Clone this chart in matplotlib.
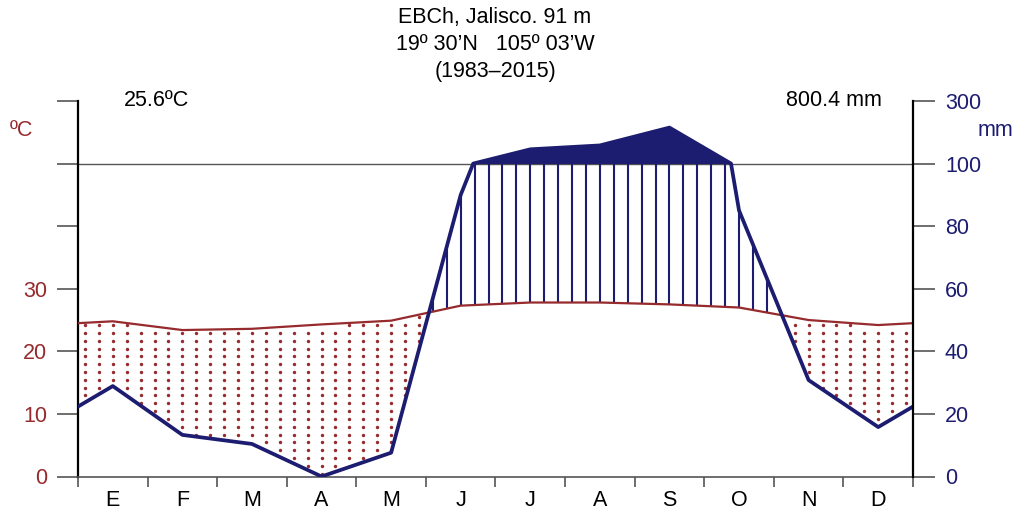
import numpy as np
import matplotlib
matplotlib.use('Agg')
import matplotlib.pyplot as plt

plt.rcParams['font.family'] = ['Liberation Sans', 'DejaVu Sans']

# ---- data ----
months = ['E', 'F', 'M', 'A', 'M', 'J', 'J', 'A', 'S', 'O', 'N', 'D']
temp = [24.8, 23.4, 23.6, 24.3, 24.9, 27.3, 27.8, 27.8, 27.5, 27.0, 25.0, 24.2]
precip = [28.9, 13.3, 10.4, 0.0, 7.6, 90.0, 145.6, 158.0, 215.0, 85.0, 30.8, 15.8]
temp_tick_values = [0, 10, 20, 30, 40, 50, 60]
temp_tick_labels = ['0', '10', '20', '30', '', '', '']
precip_tick_labels = ['0', '20', '40', '60', '80', '100', '300']
title_lines = ['EBCh, Jalisco. 91 m', '19º 30’N   105º 03’W', '(1983–2015)']
mean_temp_label = '25.6ºC'
total_precip_label = '800.4 mm'

RED = '#962a2d'
NAVY = '#1c1c70'
GREY = '#555555'


def pscale(p):
    p = np.asarray(p, float)
    return np.where(p <= 100, p / 2.0, 50 + (p - 100) / 20.0)


# cyclic extension to the plot edges
xc = np.arange(12) + 0.5
edge_t = (temp[-1] + temp[0]) / 2
edge_p = (precip[-1] + precip[0]) / 2
x_ext = np.concatenate([[0], xc, [12]])
t_ext = np.concatenate([[edge_t], temp, [edge_t]])
p_ext = np.concatenate([[edge_p], precip, [edge_p]])

# insert 100 mm crossings (scale change)
px, pv = [x_ext[0]], [p_ext[0]]
for i in range(len(x_ext) - 1):
    a, b = p_ext[i], p_ext[i + 1]
    if (a - 100) * (b - 100) < 0:
        f = (100 - a) / (b - a)
        px.append(x_ext[i] + f * (x_ext[i + 1] - x_ext[i]))
        pv.append(100.0)
    px.append(x_ext[i + 1])
    pv.append(p_ext[i + 1])
px = np.array(px)
pv = np.array(pv)
ps = pscale(pv)

fig = plt.figure(figsize=(10.18, 5.13), dpi=100)
ax = fig.add_axes([78 / 1018, 36.5 / 513, (913 - 78) / 1018, (476.5 - 101) / 513])
ax.set_xlim(0, 12)
ax.set_ylim(0, 60)

# humid hatch lines and dry dots
hx = np.arange(0.1, 12, 0.2)
rows = 0.45 + 1.25 * np.arange(0, 48)
dots_x, dots_y = [], []
for x in hx:
    t = np.interp(x, x_ext, t_ext)
    p = float(pscale(np.interp(x, px, pv)))
    if p > t:
        ax.vlines(x, t, min(p, 50), color=NAVY, lw=1.5, zorder=2)
    else:
        for y in rows:
            if p + 0.3 < y < t - 0.25:
                dots_x.append(x)
                dots_y.append(y)
ax.scatter(dots_x, dots_y, s=6, marker='o', color=RED, linewidths=0, zorder=2)

# above 100 mm fill
ax.fill_between(px, 50, ps, where=ps >= 50, interpolate=True, color=NAVY, lw=0, zorder=3)

ax.axhline(50, color=GREY, lw=1.0, zorder=1)

ax.plot(x_ext, t_ext, color=RED, lw=1.6, zorder=4)
ax.plot(px, ps, color=NAVY, lw=2.7, zorder=5)

# axes styling
ax.spines['top'].set_visible(False)
ax.spines['left'].set_color('black')
ax.spines['left'].set_linewidth(1.6)
ax.spines['right'].set_visible(False)
ax.spines['bottom'].set_color(GREY)
ax.spines['bottom'].set_linewidth(1.2)

fs = 15.5
ax.set_yticks(temp_tick_values)
ax.set_yticklabels(temp_tick_labels)
ax.tick_params(axis='y', direction='out', length=15, width=1.2, color=GREY,
               labelcolor=RED, labelsize=fs, pad=7)

ax.set_xticks(np.arange(13))
ax.set_xticklabels([])
ax.set_xticks(xc, minor=True)
ax.set_xticklabels(months, minor=True)
ax.tick_params(axis='x', which='major', direction='out', length=7, width=1.2, color=GREY)
ax.tick_params(axis='x', which='minor', length=0, pad=10, labelsize=fs)

ax2 = ax.twinx()
ax2.set_ylim(0, 60)
ax2.set_yticks(temp_tick_values)
ax2.set_yticklabels(precip_tick_labels)
ax2.tick_params(axis='y', direction='out', length=16, width=1.2, color=GREY,
                labelcolor=NAVY, labelsize=fs, pad=7)
for s in ['top', 'left', 'bottom']:
    ax2.spines[s].set_visible(False)
ax2.spines['right'].set_color('black')
ax2.spines['right'].set_linewidth(1.6)

# texts
fig.text(495 / 1018, 1 - 18 / 513, title_lines[0], ha='center', va='center', fontsize=fs)
fig.text(495 / 1018, 1 - 45 / 513, title_lines[1], ha='center', va='center', fontsize=fs)
fig.text(495 / 1018, 1 - 72 / 513, title_lines[2], ha='center', va='center', fontsize=fs)
fig.text(124 / 1018, 1 - 100 / 513, mean_temp_label, ha='left', va='center', fontsize=fs)
fig.text(882 / 1018, 1 - 100 / 513, total_precip_label, ha='right', va='center', fontsize=fs)
fig.text(21 / 1018, 1 - 130 / 513, 'ºC', ha='center', va='center', fontsize=fs, color=RED)
fig.text(995 / 1018, 1 - 130 / 513, 'mm', ha='center', va='center', fontsize=fs, color=NAVY)

fig.savefig('out.png', dpi=100)
